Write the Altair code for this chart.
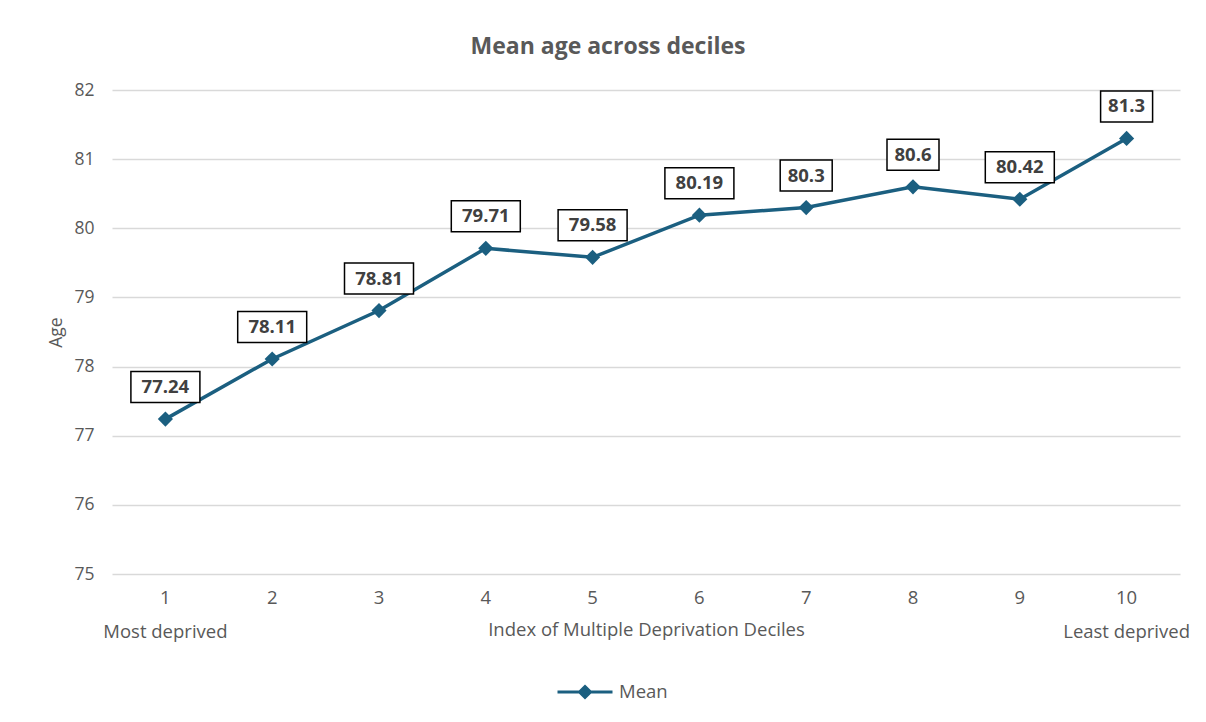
import altair as alt
import pandas as pd

deciles = [1, 2, 3, 4, 5, 6, 7, 8, 9, 10]
mean_age = [77.24, 78.11, 78.81, 79.71, 79.58, 80.19, 80.3, 80.6, 80.42, 81.3]
labels = ["77.24", "78.11", "78.81", "79.71", "79.58", "80.19", "80.3", "80.6", "80.42", "81.3"]
series = ["Mean"] * len(deciles)

df = pd.DataFrame({"decile": deciles, "age": mean_age, "label": labels, "series": series})

LINE = "#1b5f80"
GREY = "#595959"
FONT = "Open Sans"

x = alt.X(
    "decile:O",
    scale=alt.Scale(type="band", paddingInner=0, paddingOuter=0),
    axis=alt.Axis(
        title="Index of Multiple Deprivation Deciles",
        labelAngle=0,
        ticks=False,
        domain=False,
        labelPadding=14,
        labelFontSize=18.5,
        labelColor=GREY,
        labelLineHeight=34,
        labelExpr="datum.label == '1' ? ['1', 'Most deprived'] : datum.label == '10' ? ['10', 'Least deprived'] : datum.label",
        titleFontSize=18.5,
        titleFontWeight="normal",
        titleColor=GREY,
        titleY=46,
        titleBaseline="top",
    ),
)
y = alt.Y(
    "age:Q",
    scale=alt.Scale(domain=[75, 82], nice=False, zero=False),
    axis=alt.Axis(
        title="Age",
        values=[75, 76, 77, 78, 79, 80, 81, 82],
        ticks=False,
        domain=False,
        labelPadding=18,
        labelFontSize=17.5,
        labelColor=GREY,
        gridColor="#d9d9d9",
        gridWidth=1.5,
        titleFontSize=17.5,
        titleFontWeight="normal",
        titleColor=GREY,
        titlePadding=8,
    ),
)

color = alt.Color(
    "series:N",
    scale=alt.Scale(range=[LINE]),
    legend=alt.Legend(
        title=None,
        orient="none",
        legendX=444,
        legendY=573,
        symbolType="M-1,0L1,0M0,-0.2L0.2,0L0,0.2L-0.2,0Z",
        symbolSize=3025,
        symbolStrokeWidth=3,
        symbolFillColor=LINE,
        symbolStrokeColor=LINE,
        labelFontSize=18.5,
        labelColor=GREY,
        labelOffset=5,
    ),
)

base = alt.Chart(df).encode(x=x, y=y)

line = base.mark_line(strokeWidth=3.5).encode(color=color)
points = base.mark_point(shape="diamond", filled=True, size=230, opacity=1).encode(color=color)

boxes5 = base.transform_filter("length(datum.label) == 5").mark_rect(
    width=69, height=31, yOffset=-32, fill="white", stroke="black", strokeWidth=1.5
)
boxes4 = base.transform_filter("length(datum.label) == 4").mark_rect(
    width=52, height=31, yOffset=-32, fill="white", stroke="black", strokeWidth=1.5
)
texts = base.mark_text(
    dy=-32, fontSize=18.5, fontWeight="bold", color="#404040", font=FONT
).encode(text="label:N")

chart = (
    alt.layer(line, points, boxes5, boxes4, texts)
    .properties(
        width=1068,
        height=484,
        title=alt.TitleParams(
            "Mean age across deciles", fontSize=23, fontWeight="bold", color=GREY, font=FONT,
            offset=22, dx=-38
        ),
        autosize=alt.AutoSizeParams(type="none"),
        padding={"left": 104, "top": 82, "right": 18, "bottom": 130},
    )
    .configure(font=FONT)
    .configure_view(stroke=None)
)

chart.save("out.html", embed_options={"renderer": "svg", "actions": False})
